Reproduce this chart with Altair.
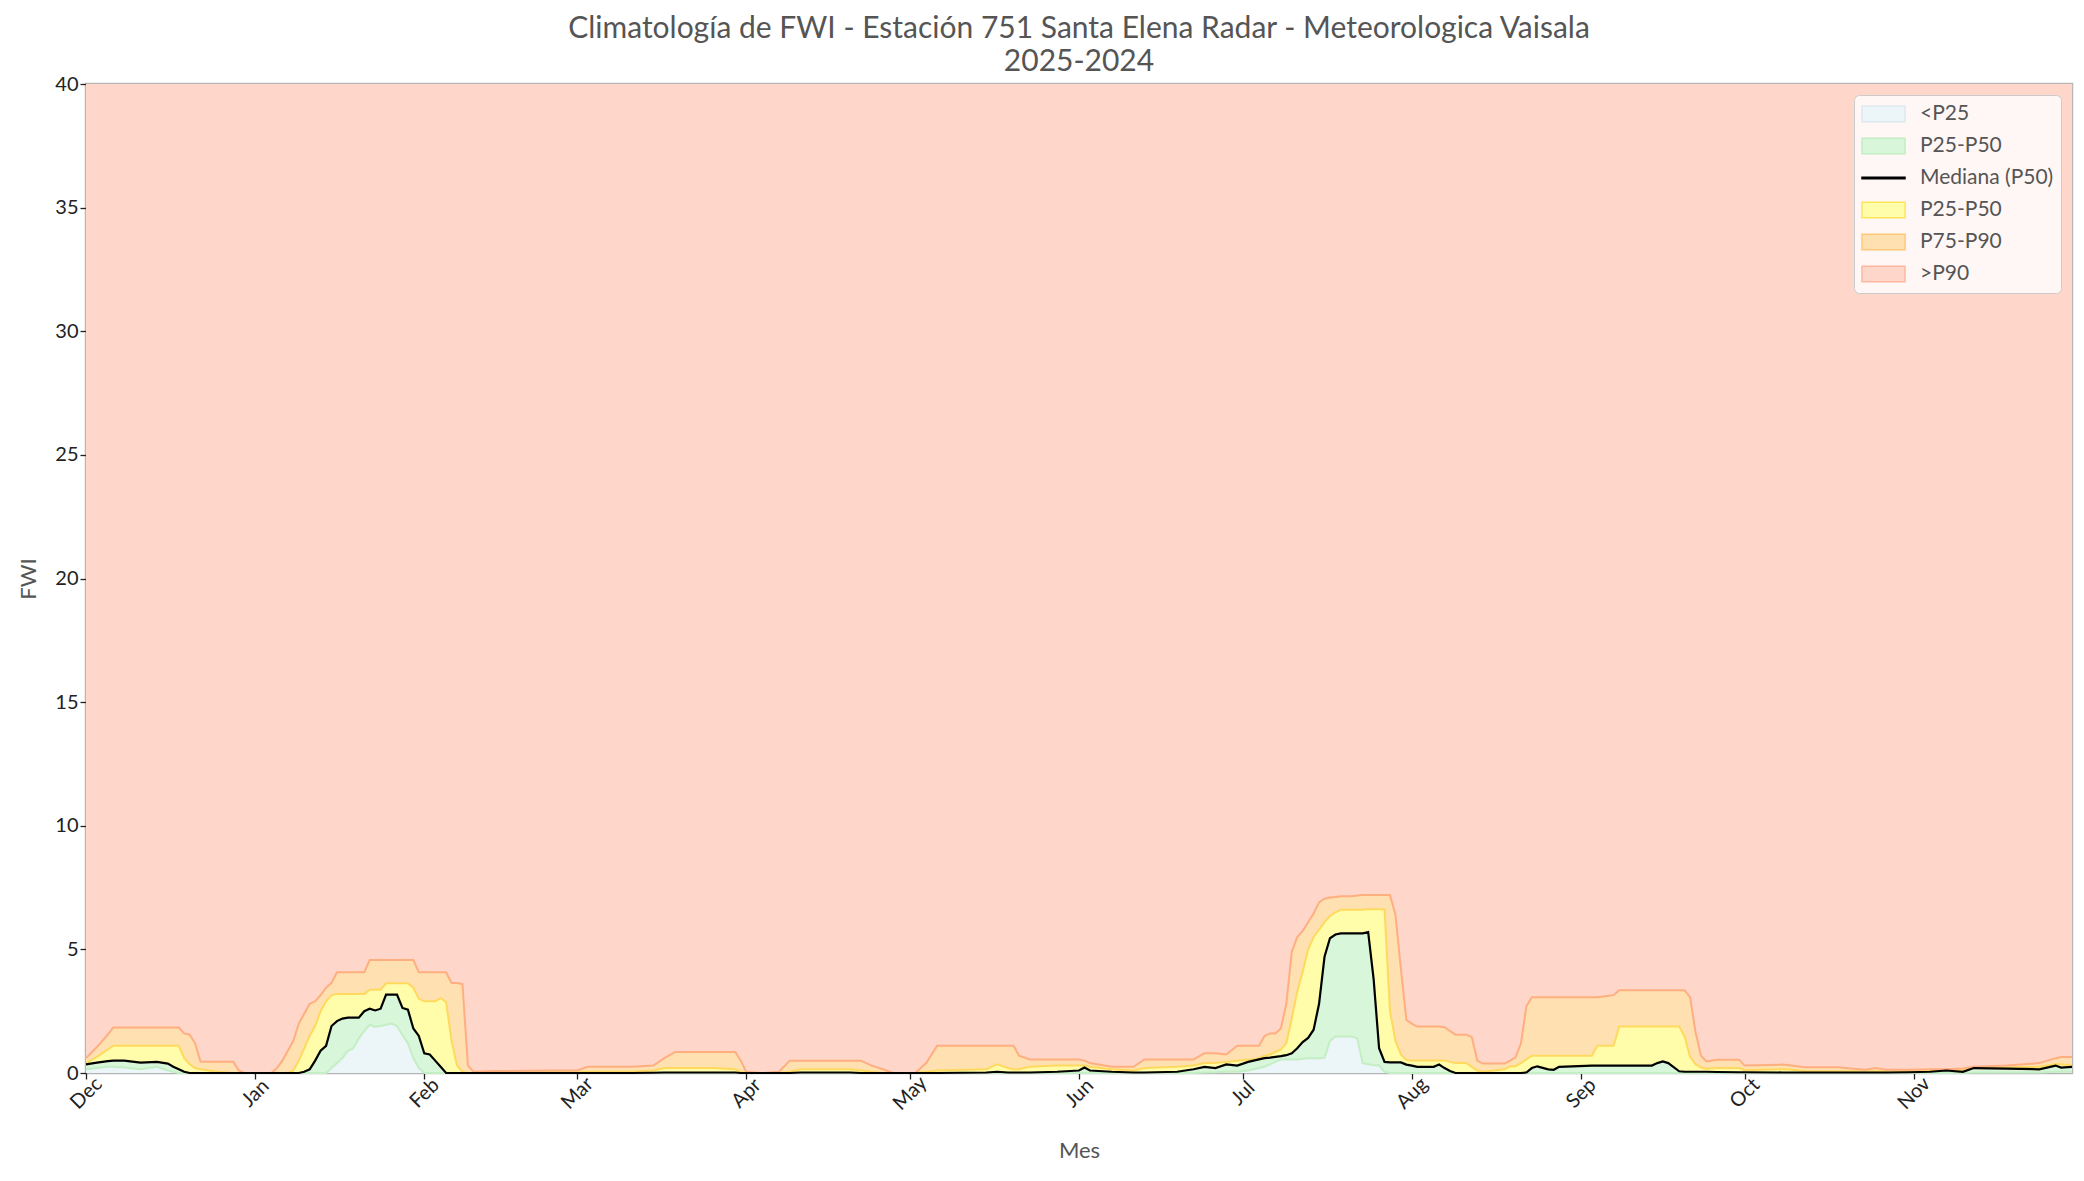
import altair as alt
import pandas as pd

TITLE_LINES = ["Climatología de FWI - Estación 751 Santa Elena Radar - Meteorologica Vaisala", "2025-2024"]
MONTH_LABELS = ["Dec", "Jan", "Feb", "Mar", "Apr", "May", "Jun", "Jul", "Aug", "Sep", "Oct", "Nov"]
MONTH_TICKS = [0, 31, 62, 90, 121, 151, 182, 212, 243, 274, 304, 335]
Y_TICKS = [0, 5, 10, 15, 20, 25, 30, 35, 40]
Y_MAX = 40
LAST_DAY = 364

# day index counted from 1 December
DAYS = [
    0, 2, 4, 5, 7, 10, 13, 15, 16, 17, 18, 19, 20, 21, 24, 27, 28, 29, 33, 34, 35,
    36, 37, 38, 39, 40, 41, 42, 43, 44, 45, 46, 47, 48, 49, 50, 51, 52, 53, 54, 55, 56, 57, 58, 59,
    60, 61, 62, 63, 64, 65, 66, 67, 68, 69, 70, 71,
    75, 85, 90, 92, 100, 104, 106, 108, 115, 119, 120, 121, 124, 127, 129, 131, 140, 142, 144, 146,
    148, 152, 154, 156, 165, 167, 169, 170, 171, 173, 178, 182, 183, 184, 188, 192, 194, 200, 203,
    205, 207, 209, 211, 213,
    214, 215, 216, 217, 218, 219, 220, 221, 222, 223, 224, 225, 226, 227, 228, 229, 230, 231, 232,
    233, 234, 235, 236, 237, 238, 239, 240, 241, 242, 243, 244, 245, 246,
    247, 248, 249, 250, 251, 253, 254, 255, 256, 260, 261, 262, 263, 264, 265, 266, 268, 269, 270, 276,
    277, 280, 281, 282, 287, 288, 289, 290, 292, 293, 294, 295, 296, 297, 299, 303,
    304, 311, 315, 321, 326, 328, 330, 334, 338, 341, 344, 346, 352, 358, 361, 362, 364,
]
P25 = [
    0.15, 0.2, 0.25, 0.25, 0.22, 0.15, 0.25, 0.1, 0.05, 0, 0, 0, 0, 0, 0, 0, 0, 0, 0, 0, 0,
    0, 0, 0, 0, 0, 0, 0, 0, 0, 0.2, 0.4, 0.6, 0.9, 1.0, 1.4, 1.7, 1.95, 1.87, 1.9, 1.95, 2.0, 1.9, 1.53, 1.2,
    0.6, 0.2, 0, 0, 0, 0, 0, 0, 0, 0, 0, 0,
    0, 0, 0, 0, 0, 0, 0, 0, 0, 0, 0, 0, 0, 0, 0, 0, 0, 0, 0, 0,
    0, 0, 0, 0, 0, 0, 0, 0, 0, 0, 0, 0, 0, 0, 0, 0, 0, 0, 0,
    0.02, 0.03, 0.05, 0.05, 0.1,
    0.15, 0.2, 0.25, 0.35, 0.45, 0.55, 0.55, 0.55, 0.55, 0.58, 0.6, 0.6, 0.6, 0.62, 1.3, 1.48, 1.48, 1.48, 1.48,
    1.4, 0.4, 0.35, 0.32, 0.3, 0.05, 0, 0, 0, 0, 0, 0, 0, 0,
    0, 0, 0, 0, 0, 0, 0, 0, 0, 0, 0, 0, 0, 0, 0, 0, 0, 0, 0, 0,
    0, 0, 0, 0, 0, 0, 0, 0, 0, 0, 0, 0, 0, 0, 0, 0,
    0, 0, 0, 0, 0, 0, 0, 0, 0, 0, 0, 0.02, 0.02, 0.02, 0.05, 0.05, 0.05,
]
P50 = [
    0.35, 0.42, 0.48, 0.5, 0.5, 0.42, 0.45, 0.38, 0.25, 0.15, 0.05, 0, 0, 0, 0, 0, 0, 0, 0, 0, 0,
    0, 0, 0, 0, 0.05, 0.15, 0.5, 0.9, 1.1, 1.9, 2.1, 2.2, 2.24, 2.24, 2.24, 2.5, 2.6, 2.53, 2.6, 3.17, 3.17, 3.17, 2.63, 2.56,
    1.8, 1.5, 0.8, 0.75, 0.5, 0.25, 0, 0, 0, 0, 0, 0,
    0, 0, 0, 0, 0, 0.01, 0.02, 0.02, 0.02, 0.02, 0, 0, 0, 0, 0, 0.02, 0.02, 0, 0, 0,
    0, 0, 0, 0, 0.02, 0.05, 0.02, 0.02, 0.02, 0.02, 0.05, 0.1, 0.22, 0.1, 0.05, 0.02, 0.02, 0.05, 0.15,
    0.25, 0.2, 0.35, 0.3, 0.45,
    0.5, 0.55, 0.6, 0.62, 0.65, 0.68, 0.72, 0.8, 1.0, 1.25, 1.42, 1.75, 2.8, 4.7, 5.45, 5.6, 5.65, 5.65, 5.65,
    5.65, 5.65, 5.7, 3.8, 1.0, 0.45, 0.43, 0.43, 0.43, 0.34, 0.3, 0.25, 0.25, 0.25,
    0.25, 0.34, 0.2, 0.08, 0, 0, 0, 0, 0, 0, 0, 0, 0, 0.02, 0.2, 0.27, 0.15, 0.13, 0.25, 0.3,
    0.3, 0.3, 0.3, 0.3, 0.3, 0.4, 0.47, 0.4, 0.07, 0.05, 0.05, 0.05, 0.05, 0.05, 0.04, 0.03,
    0.03, 0.02, 0.02, 0.02, 0.02, 0.02, 0.02, 0.03, 0.05, 0.1, 0.05, 0.2, 0.18, 0.15, 0.3, 0.22, 0.25,
]
P75 = [
    0.4, 0.65, 0.95, 1.1, 1.1, 1.1, 1.1, 1.1, 1.1, 1.1, 0.6, 0.35, 0.2, 0.15, 0.05, 0, 0, 0, 0, 0, 0,
    0, 0, 0.1, 0.5, 1.0, 1.5, 1.9, 2.5, 2.9, 3.15, 3.2, 3.2, 3.2, 3.2, 3.2, 3.2, 3.37, 3.37, 3.37, 3.63, 3.63, 3.63, 3.63, 3.63,
    3.45, 3.0, 2.9, 2.9, 2.9, 3.03, 2.87, 1.3, 0.3, 0.05, 0, 0,
    0.02, 0.03, 0.03, 0.05, 0.05, 0.1, 0.2, 0.2, 0.2, 0.15, 0.05, 0, 0, 0, 0.05, 0.15, 0.15, 0.1, 0.05, 0,
    0, 0, 0.05, 0.1, 0.15, 0.35, 0.2, 0.15, 0.15, 0.25, 0.3, 0.3, 0.3, 0.25, 0.15, 0.1, 0.2, 0.25, 0.3,
    0.4, 0.4, 0.45, 0.5, 0.55,
    0.55, 0.6, 0.7, 0.75, 0.85, 0.95, 1.2, 2.2, 3.3, 4.1, 5.0, 5.5, 5.8, 6.1, 6.35, 6.5, 6.6, 6.6, 6.6,
    6.6, 6.6, 6.62, 6.62, 6.62, 6.62, 2.5, 1.3, 0.75, 0.52, 0.51, 0.51, 0.51, 0.51,
    0.51, 0.51, 0.51, 0.45, 0.4, 0.4, 0.25, 0.1, 0.05, 0.15, 0.27, 0.27, 0.4, 0.55, 0.7, 0.7, 0.7, 0.7, 0.7, 0.7,
    1.1, 1.1, 1.88, 1.88, 1.88, 1.88, 1.88, 1.88, 1.88, 1.48, 0.65, 0.35, 0.22, 0.17, 0.2, 0.2,
    0.11, 0.16, 0.08, 0.07, 0.07, 0.07, 0.07, 0.08, 0.1, 0.12, 0.12, 0.22, 0.22, 0.25, 0.35, 0.35, 0.3,
]
P90 = [
    0.6, 1.05, 1.55, 1.84, 1.84, 1.84, 1.84, 1.84, 1.84, 1.84, 1.6, 1.55, 1.2, 0.45, 0.45, 0.45, 0.1, 0, 0, 0, 0.2,
    0.5, 0.9, 1.3, 2.0, 2.4, 2.8, 2.9, 3.15, 3.45, 3.65, 4.07, 4.07, 4.07, 4.07, 4.07, 4.07, 4.57, 4.57, 4.57, 4.57, 4.57, 4.57, 4.57, 4.57,
    4.57, 4.07, 4.07, 4.07, 4.07, 4.07, 4.07, 3.64, 3.64, 3.6, 0.3, 0.05,
    0.08, 0.1, 0.1, 0.25, 0.25, 0.3, 0.6, 0.85, 0.85, 0.85, 0.5, 0.05, 0, 0.05, 0.5, 0.5, 0.5, 0.5, 0.3, 0.15,
    0, 0, 0.4, 1.1, 1.1, 1.1, 1.1, 1.1, 0.7, 0.55, 0.55, 0.55, 0.5, 0.4, 0.25, 0.25, 0.55, 0.55, 0.55,
    0.8, 0.8, 0.75, 1.1, 1.1,
    1.1, 1.1, 1.5, 1.6, 1.6, 1.8, 2.8, 4.9, 5.5, 5.75, 6.1, 6.45, 6.9, 7.05, 7.1, 7.12, 7.15, 7.15, 7.15,
    7.18, 7.2, 7.2, 7.2, 7.2, 7.2, 7.2, 6.4, 4.2, 2.15, 2.0, 1.88, 1.88, 1.88,
    1.88, 1.88, 1.85, 1.7, 1.55, 1.55, 1.45, 0.5, 0.38, 0.38, 0.5, 0.63, 1.2, 2.7, 3.06, 3.06, 3.06, 3.06, 3.06, 3.06,
    3.06, 3.15, 3.35, 3.35, 3.35, 3.35, 3.35, 3.35, 3.35, 3.35, 3.06, 1.65, 0.7, 0.47, 0.54, 0.54,
    0.3, 0.34, 0.23, 0.23, 0.13, 0.2, 0.13, 0.13, 0.15, 0.15, 0.18, 0.25, 0.3, 0.4, 0.6, 0.65, 0.65,
]

for series in (P25, P50, P75, P90):
    assert len(series) == len(DAYS), (len(series), len(DAYS))

LEGEND_NAMES = ["<P25", "P25-P50", "Mediana (P50)", "P50-P75", "P75-P90", ">P90"]
AREA_NAMES = ["<P25", "P25-P50", "P50-P75", "P75-P90", ">P90"]
FILL = {
    "<P25": "#ECF5F8",
    "P25-P50": "#D8F6D9",
    "Mediana (P50)": "#000000",
    "P50-P75": "#FFFDAA",
    "P75-P90": "#FFE0B0",
    ">P90": "#FFD6CA",
}
EDGE = {
    "<P25": "#DCE9F0",
    "P25-P50": "#C2EEC3",
    "Mediana (P50)": "#000000",
    "P50-P75": "#FFE45C",
    "P75-P90": "#FFC879",
    ">P90": "#FFB89E",
}
RECT = "M-1,-0.36L1,-0.36L1,0.36L-1,0.36Z"
THIN = "M-1,-0.04L1,-0.04L1,0.04L-1,0.04Z"
SHAPES = [RECT, RECT, THIN, RECT, RECT, RECT]

# long tables built from the arrays
area_rows = []
for i, d in enumerate(DAYS):
    bounds = [0, P25[i], P50[i], P75[i], P90[i], Y_MAX]
    for k, name in enumerate(AREA_NAMES):
        area_rows.append({"day": d, "band": name, "lo": bounds[k], "hi": bounds[k + 1], "fill": FILL[name]})
area_df = pd.DataFrame(area_rows)

edge_rows = []
for name, series, col in (("p25", P25, "#C4EEC4"), ("p75", P75, "#FFD95E"), ("p90", P90, "#FFAE80")):
    for d, v in zip(DAYS, series):
        edge_rows.append({"day": d, "series": name, "value": v, "color": col})
edge_df = pd.DataFrame(edge_rows)

median_df = pd.DataFrame({"day": DAYS, "value": P50})
legend_df = pd.DataFrame({"band": LEGEND_NAMES, "day": [-60] * len(LEGEND_NAMES), "value": [0] * len(LEGEND_NAMES)})

label_expr = "[" + ",".join("'%s'" % m for m in MONTH_LABELS) + "][indexof([" + ",".join(str(t) for t in MONTH_TICKS) + "], datum.value)]"

X = alt.X(
    "day:Q",
    scale=alt.Scale(domain=[0, LAST_DAY], nice=False, zero=False),
    axis=alt.Axis(
        values=MONTH_TICKS, labelExpr=label_expr, title="Mes", labelAngle=-45,
        labelAlign="center", labelBaseline="middle", labelPadding=14, titlePadding=27,
    ),
)
YSCALE = alt.Scale(domain=[0, Y_MAX], nice=False, zero=True)
YAXIS = alt.Axis(values=Y_TICKS, title="FWI", titlePadding=14)

areas = alt.Chart(area_df).mark_area(interpolate="linear").encode(
    x=X,
    y=alt.Y("lo:Q", scale=YSCALE, axis=YAXIS),
    y2="hi:Q",
    fill=alt.Fill("fill:N", scale=None),
    detail="band:N",
)

edges = alt.Chart(edge_df).mark_line(strokeWidth=2, interpolate="linear").encode(
    x=X,
    y=alt.Y("value:Q", scale=YSCALE, axis=YAXIS),
    stroke=alt.Stroke("color:N", scale=None),
    detail="series:N",
)

median = alt.Chart(median_df).mark_line(color="#000000", strokeWidth=2.2).encode(
    x=X,
    y=alt.Y("value:Q", scale=YSCALE, axis=YAXIS),
)

LEG = alt.Legend(
    title=None, orient="top-right", offset=11,
    labelExpr="datum.label == 'P50-P75' ? 'P25-P50' : datum.label",
    symbolSize=1850, clipHeight=24, rowPadding=8, padding=7, labelOffset=14,
    symbolStrokeWidth=1.5, symbolOpacity=1,
    fillColor="rgba(255,255,255,0.8)", strokeColor="#cccccc", cornerRadius=5,
    labelFont="Lato", labelFontSize=21, labelColor="#555555",
)

legend_pts = alt.Chart(legend_df).mark_point(filled=True, clip=True, size=100, opacity=1).encode(
    x=X,
    y=alt.Y("value:Q", scale=YSCALE, axis=YAXIS),
    fill=alt.Fill("band:N", scale=alt.Scale(domain=LEGEND_NAMES, range=[FILL[n] for n in LEGEND_NAMES]), legend=LEG),
    stroke=alt.Stroke("band:N", scale=alt.Scale(domain=LEGEND_NAMES, range=[EDGE[n] for n in LEGEND_NAMES]), legend=LEG),
    shape=alt.Shape("band:N", scale=alt.Scale(domain=LEGEND_NAMES, range=SHAPES), legend=LEG),
)

chart = alt.layer(areas, edges, median, legend_pts).properties(
    width=1986,
    height=989,
    title=alt.Title(TITLE_LINES, fontSize=30, font="Lato", color="#555555", fontWeight="normal",
                    offset=-3, lineHeight=33, anchor="middle"),
    autosize=alt.AutoSizeParams(type="none"),
    padding={"left": 78, "top": 76, "right": 4, "bottom": 100},
).configure_view(
    stroke="#b8b8b8", strokeWidth=2.5,
).configure_axis(
    labelFont="Lato", labelFontSize=20, labelColor="#222222",
    titleFont="Lato", titleFontSize=22, titleColor="#555555", titleFontWeight="normal",
    gridColor="#a8a8a8", gridOpacity=0.35, gridWidth=1,
    tickColor="#222222", tickSize=6, tickWidth=1.3,
    domain=False, zindex=1,
)

chart.save("out.html", embed_options={"renderer": "svg", "actions": False})
